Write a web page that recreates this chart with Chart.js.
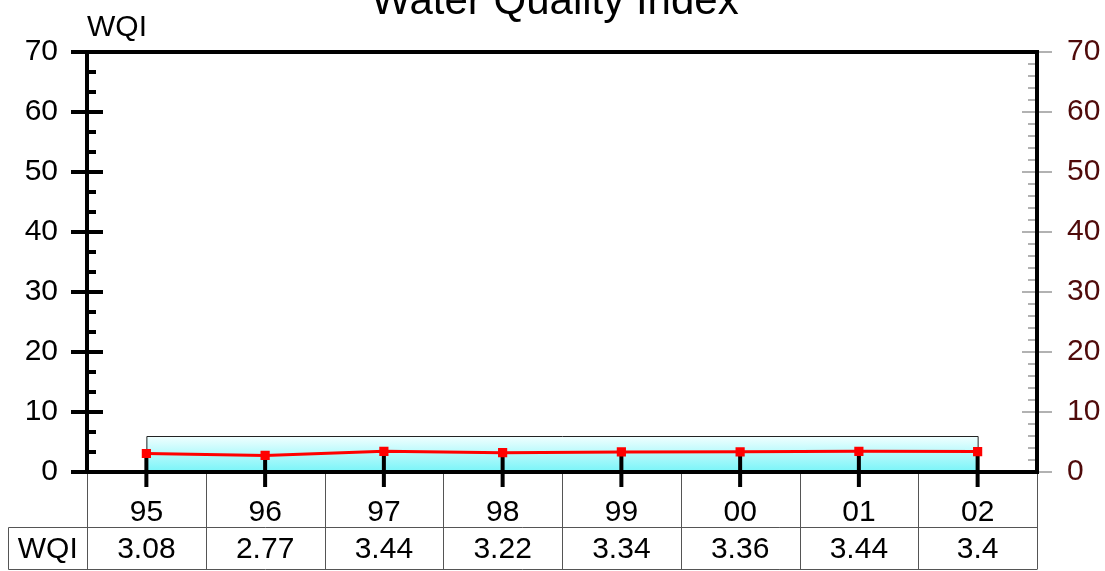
<!DOCTYPE html>
<html>
<head>
<meta charset="utf-8">
<title>Water Quality Index</title>
<script src="https://cdn.jsdelivr.net/npm/chart.js@4.4.1/dist/chart.umd.min.js"></script>
<style>
  html, body { margin: 0; padding: 0; background: #fff; }
  canvas { display: block; }
</style>
</head>
<body>
<canvas id="wqi-chart" width="1105" height="571"></canvas>
<script>
// ── Data ──────────────────────────────────────────────
const years = ['95', '96', '97', '98', '99', '00', '01', '02'];
const wqi = [3.08, 2.77, 3.44, 3.22, 3.34, 3.36, 3.44, 3.4];
const yMin = 0, yMax = 70, yStep = 10;
const bandTop = 6;            // upper edge of the shaded reference band
const seriesLabel = 'WQI';
const chartTitle = 'Water Quality Index';

const FONT = "'Liberation Sans', Arial, Helvetica, sans-serif";
const RIGHT_COLOR = '#4f0a0a';

// ── Frame, band, ticks and data table ─────────────────
const framePlugin = {
  id: 'frame',
  beforeDatasetsDraw(chart) {
    const { ctx, chartArea: a, scales: { x, y, y2 } } = chart;
    ctx.save();

    // shaded band behind the line
    const bx0 = x.getPixelForValue(0);
    const bx1 = x.getPixelForValue(years.length - 1);
    const by0 = y.getPixelForValue(bandTop);
    const by1 = y.getPixelForValue(0);
    const g = ctx.createLinearGradient(0, by0, 0, by1);
    g.addColorStop(0, '#f2ffff');
    g.addColorStop(1, '#78f4f8');
    ctx.fillStyle = g;
    ctx.fillRect(bx0, by0, bx1 - bx0, by1 - by0);
    ctx.strokeStyle = '#222';
    ctx.lineWidth = 1;
    ctx.beginPath();
    ctx.moveTo(bx0 + 0.5, by1);
    ctx.lineTo(bx0 + 0.5, by0 + 0.5);
    ctx.lineTo(bx1 + 0.5, by0 + 0.5);
    ctx.lineTo(bx1 + 0.5, by1);
    ctx.stroke();

    // left axis: major + minor ticks (3 subdivisions)
    ctx.strokeStyle = '#000';
    ctx.lineWidth = 4;
    ctx.beginPath();
    y.ticks.forEach((t, i) => {
      const py = y.getPixelForValue(t.value);
      ctx.moveTo(a.left - 16, py);
      ctx.lineTo(a.left + 16, py);
      if (i < y.ticks.length - 1) {
        for (let k = 1; k < 3; k++) {
          const my = y.getPixelForValue(t.value + k * yStep / 3);
          ctx.moveTo(a.left, my);
          ctx.lineTo(a.left + 9, my);
        }
      }
    });
    ctx.stroke();

    // right axis: thin ticks (5 subdivisions)
    ctx.strokeStyle = '#666';
    ctx.lineWidth = 1.2;
    ctx.beginPath();
    y2.ticks.forEach((t, i) => {
      const py = y2.getPixelForValue(t.value);
      ctx.moveTo(a.right - 15, py);
      ctx.lineTo(a.right + 15, py);
      if (i < y2.ticks.length - 1) {
        for (let k = 1; k < 5; k++) {
          const my = y2.getPixelForValue(t.value + k * yStep / 5);
          ctx.moveTo(a.right - 9, my);
          ctx.lineTo(a.right, my);
        }
      }
    });
    ctx.stroke();

    // category ticks
    ctx.strokeStyle = '#000';
    ctx.lineWidth = 4;
    ctx.beginPath();
    years.forEach((_, i) => {
      const px = x.getPixelForValue(i);
      ctx.moveTo(px, a.bottom - 16);
      ctx.lineTo(px, a.bottom + 15);
    });
    ctx.stroke();

    // frame lines
    ctx.beginPath();
    ctx.moveTo(a.left - 16, a.top);
    ctx.lineTo(a.right + 2, a.top);
    ctx.moveTo(a.left, a.top);
    ctx.lineTo(a.left, a.bottom + 2);
    ctx.moveTo(a.right, a.top - 2);
    ctx.lineTo(a.right, a.bottom + 2);
    ctx.moveTo(a.left - 16, a.bottom);
    ctx.lineTo(a.right + 2, a.bottom);
    ctx.stroke();
    ctx.restore();
  },
  afterDraw(chart) {
    const { ctx, chartArea: a, scales: { x } } = chart;
    const H = chart.height;
    const half = (x.getPixelForValue(1) - x.getPixelForValue(0)) / 2;
    const rowY = a.bottom + 55.5;   // line between year row and value row
    const endY = H - 1.5;
    const labelLeft = 8.5;

    ctx.save();
    // table grid
    ctx.strokeStyle = '#555';
    ctx.lineWidth = 1;
    ctx.beginPath();
    for (let i = 0; i <= years.length; i++) {
      const px = Math.round(x.getPixelForValue(i) - half) + 0.5;
      ctx.moveTo(px, a.bottom + 2);
      ctx.lineTo(px, endY);
    }
    ctx.moveTo(labelLeft, rowY);
    ctx.lineTo(a.right, rowY);
    ctx.moveTo(labelLeft, endY);
    ctx.lineTo(a.right, endY);
    ctx.moveTo(labelLeft, rowY);
    ctx.lineTo(labelLeft, endY);
    ctx.stroke();

    // value row
    ctx.fillStyle = '#000';
    ctx.font = '30px ' + FONT;
    ctx.textAlign = 'center';
    ctx.textBaseline = 'middle';
    const vy = (rowY + endY) / 2 + 1;
    wqi.forEach((v, i) => ctx.fillText(String(v), x.getPixelForValue(i), vy));
    ctx.fillText(seriesLabel, (labelLeft + a.left) / 2, vy);

    // axis caption and title
    ctx.textAlign = 'left';
    ctx.textBaseline = 'alphabetic';
    ctx.fillText(seriesLabel, a.left, 36);
    ctx.textAlign = 'center';
    ctx.font = '42px ' + FONT;
    ctx.fillText(chartTitle, 555, 14);
    ctx.restore();
  },
};

// ── Chart ─────────────────────────────────────────────
const tickFont = { family: FONT, size: 30 };

new Chart(document.getElementById('wqi-chart'), {
  type: 'line',
  data: {
    labels: years,
    datasets: [{
      label: seriesLabel,
      data: wqi,
      borderColor: '#ff0000',
      backgroundColor: '#ff0000',
      borderWidth: 3,
      pointStyle: 'rect',
      pointRadius: 6.5,
      pointBorderWidth: 0,
      tension: 0,
      fill: false,
      yAxisID: 'y',
    }],
  },
  options: {
    responsive: false,
    animation: false,
    layout: { padding: { top: 52, left: 0, right: 0, bottom: 0 } },
    plugins: { legend: { display: false }, tooltip: { enabled: false }, title: { display: false } },
    scales: {
      x: {
        type: 'category',
        offset: true,
        grid: { display: false, drawTicks: false },
        border: { display: false },
        ticks: { font: tickFont, color: '#000', padding: 23, maxRotation: 0, autoSkip: false },
        afterFit(s) { s.height = 99; },
      },
      y: {
        position: 'left',
        min: yMin, max: yMax,
        grid: { display: false, drawTicks: false },
        border: { display: false },
        ticks: { stepSize: yStep, font: tickFont, color: '#000', padding: 29 },
        afterFit(s) { s.width = 87; },
      },
      y2: {
        position: 'right',
        min: yMin, max: yMax,
        grid: { display: false, drawTicks: false },
        border: { display: false },
        ticks: { stepSize: yStep, font: tickFont, color: RIGHT_COLOR, padding: 30 },
        afterFit(s) { s.width = 68; },
      },
    },
  },
  plugins: [framePlugin],
});
</script>
</body>
</html>
